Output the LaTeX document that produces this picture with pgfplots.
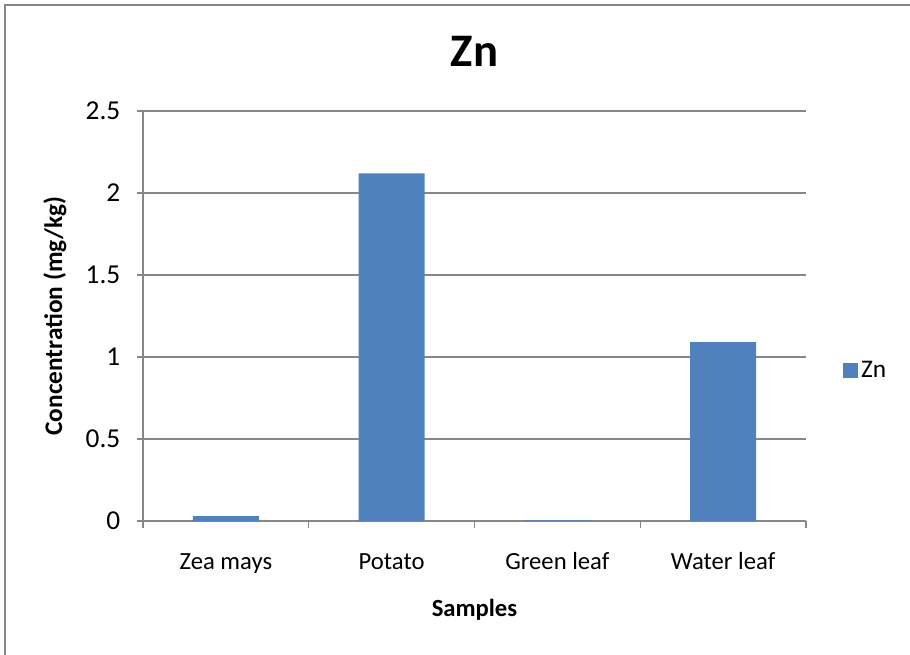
\documentclass[border=0pt]{standalone}
\usepackage{fontspec}
\setmainfont{Carlito}
\usepackage{pgfplots}
\pgfplotsset{compat=1.18}
\definecolor{barblue}{HTML}{4F81BD}
\definecolor{axisgray}{HTML}{878787}
\begin{document}
\begin{tikzpicture}
\begin{axis}[
  name=ax,
  scale only axis,
  width=497.25pt, height=307.5pt,
  xmin=0.5, xmax=4.5, ymin=0, ymax=2.5,
  axis x line*=bottom, axis y line*=left,
  axis line style={axisgray, line width=1.1pt, -},
  xtick={1,2,3,4},
  xticklabels={Zea mays, Potato, Green leaf, Water leaf},
  minor xtick={0.5,1.5,2.5,3.5,4.5},
  ytick={0,0.5,...,2.5},
  tick align=outside,
  major tick length=4.5pt, minor tick length=5.25pt,
  x tick style={draw=none},
  minor x tick style={draw=axisgray, line width=0.9pt},
  y tick style={axisgray, line width=0.9pt},
  ymajorgrids,
  grid style={axisgray, line width=0.8pt},
  /pgf/number format/assume math mode=true,
  tick label style={text=black},
  xticklabel style={anchor=base, yshift=-32pt, font=\fontsize{18.5pt}{20pt}\selectfont},
  yticklabel style={anchor=east, xshift=-9pt, font=\fontsize{20.5pt}{22pt}\selectfont},
  xlabel={\bfseries Samples},
  ylabel={\bfseries Concentration (mg/kg)},
  xlabel style={at={(axis description cs:0.5,0)}, anchor=center, yshift=-66.75pt, font=\fontsize{18.5pt}{20pt}\selectfont},
  ylabel style={at={(axis description cs:-0.133,0.5)}, anchor=center, font=\fontsize{19pt}{20pt}\selectfont},
  title={\bfseries Zn},
  title style={at={(axis description cs:0.5,1)}, anchor=center, yshift=38.5pt, font=\fontsize{35pt}{37pt}\selectfont},
  legend style={at={(axis description cs:1.056,0.368)}, anchor=west, draw=none, fill=none,
    font=\fontsize{19pt}{20pt}\selectfont, inner sep=0pt},
  ybar, bar width=49.5pt,
]
\addplot[fill=barblue, draw=none,
  legend image code/.code={\fill[barblue] (0pt,-5.6pt) rectangle (11.25pt,5.6pt);}]
  coordinates {(1,0.03) (2,2.12) (3,0.004) (4,1.09)};
\addlegendentry{Zn}
\end{axis}
% outer chart frame (only its left and top edges fall on the page)
\draw[axisgray, line width=1.1pt] ([xshift=-103.5pt,yshift=-120pt]ax.south west) -- ([xshift=-103.5pt,yshift=387pt]ax.south west) -- ([xshift=620pt,yshift=387pt]ax.south west);
\pgfresetboundingbox
\useasboundingbox ([xshift=-107.25pt,yshift=-99.75pt]ax.south west) rectangle ([xshift=575.25pt,yshift=390.75pt]ax.south west);
\end{tikzpicture}
\end{document}
